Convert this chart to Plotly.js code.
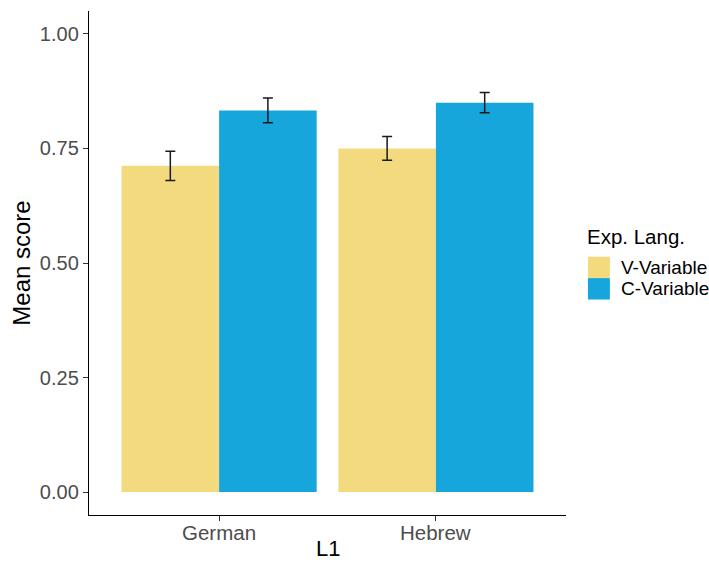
<!DOCTYPE html>
<html>
<head>
<meta charset="utf-8">
<script src="https://cdn.plot.ly/plotly-3.0.1.min.js"></script>
<style>
  html, body { margin: 0; padding: 0; background: #fff; }
  #chart { width: 709px; height: 563px; }
</style>
</head>
<body>
<div id="chart"></div>
<script>
// Mean scores by first language (L1) and experiment language condition
const categories = ['German', 'Hebrew'];
const seriesNames = ['V-Variable', 'C-Variable'];
const seriesColors = ['#F4DA7E', '#17A6DB'];
const vVariableMean = [0.712, 0.750];
const vVariableErr = [0.032, 0.026];
const cVariableMean = [0.833, 0.850];
const cVariableErr = [0.027, 0.022];
const yTicks = [0, 0.25, 0.5, 0.75, 1.0];

const fontFamily = 'Liberation Sans, Arial, sans-serif';
const means = [vVariableMean, cVariableMean];
const errs = [vVariableErr, cVariableErr];

const traces = seriesNames.map((name, i) => ({
  type: 'bar',
  name: name,
  x: categories,
  y: means[i],
  marker: { color: seriesColors[i], line: { width: 0 } },
  error_y: {
    type: 'data',
    array: errs[i],
    visible: true,
    color: '#1a1a1a',
    thickness: 1.5,
    width: 5
  },
  hoverinfo: 'x+y+name',
  showlegend: false
}));

// Category labels sit tight under the x axis, with the axis title below them
const annotations = categories.map(cat => ({
  xref: 'x', yref: 'paper', x: cat, y: -0.0345,
  xanchor: 'center', yanchor: 'middle', showarrow: false,
  text: cat, font: { family: fontFamily, size: 20.5, color: '#4D4D4D' }
}));
annotations.push({
  xref: 'paper', yref: 'paper', x: 0.5, y: -0.0945,
  xanchor: 'center', yanchor: 'bottom', showarrow: false,
  text: 'L1', font: { family: fontFamily, size: 22, color: '#000' }
});

// Legend drawn as filled keys with labels to the right of the plot
const legendX0 = 1.046, legendX1 = 1.092, legendTextX = 1.111;
const keyTop = 0.5125, keyH = 0.0425;
const shapes = [];
annotations.push({
  xref: 'paper', yref: 'paper', x: legendX0 - 0.006, y: 0.552,
  xanchor: 'left', yanchor: 'middle', showarrow: false,
  text: 'Exp. Lang.', font: { family: fontFamily, size: 20.5, color: '#000' }
});
seriesNames.forEach((name, i) => {
  const top = keyTop - i * keyH;
  shapes.push({
    type: 'rect', xref: 'paper', yref: 'paper',
    x0: legendX0, x1: legendX1, y0: top - keyH, y1: top,
    fillcolor: seriesColors[i], line: { width: 0 }
  });
  annotations.push({
    xref: 'paper', yref: 'paper', x: legendTextX, y: top - keyH / 2,
    xanchor: 'left', yanchor: 'middle', showarrow: false,
    text: name, font: { family: fontFamily, size: 19, color: '#000' }
  });
});

const layout = {
  width: 709,
  height: 563,
  margin: { l: 89, r: 143, t: 11, b: 48 },
  paper_bgcolor: '#fff',
  plot_bgcolor: '#fff',
  barmode: 'group',
  bargap: 0.1,
  bargroupgap: 0,
  showlegend: false,
  font: { family: fontFamily },
  xaxis: {
    type: 'category',
    range: [-0.6, 1.6],
    showgrid: false,
    zeroline: false,
    showline: true,
    linecolor: '#000',
    linewidth: 1.2,
    ticks: 'outside',
    ticklen: 5,
    tickcolor: '#333',
    showticklabels: false,
    automargin: false
  },
  yaxis: {
    range: [-0.05, 1.05],
    tickvals: yTicks,
    tickformat: '.2f',
    showgrid: false,
    zeroline: false,
    showline: true,
    linecolor: '#000',
    linewidth: 1.2,
    ticks: 'outside',
    ticklen: 5,
    tickcolor: '#333',
    tickfont: { family: fontFamily, size: 20, color: '#4D4D4D' },
    title: { text: 'Mean score', font: { family: fontFamily, size: 24, color: '#000' }, standoff: 2 },
    automargin: false
  },
  shapes: shapes,
  annotations: annotations
};

Plotly.newPlot('chart', traces, layout, { displayModeBar: false, staticPlot: true });
</script>
</body>
</html>
